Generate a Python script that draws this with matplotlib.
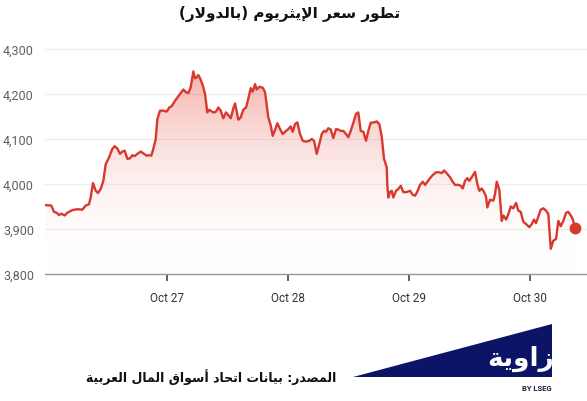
import numpy as np
import matplotlib
matplotlib.use('Agg')
import matplotlib.pyplot as plt
from matplotlib.patches import Polygon

# hours since Oct 26 00:00 and ETH price in USD
hours = [0.0, 1.05, 1.59, 2.12, 2.58, 3.03, 3.71, 4.22, 5.22, 6.21, 7.2, 7.87, 8.53, 8.87,
         9.32, 9.86, 10.31, 10.85, 11.37, 11.84, 12.5, 13.15, 13.63, 14.14, 14.68, 15.13,
         15.61, 16.13, 16.66, 17.12, 17.59, 18.11, 18.78, 19.44, 19.97, 20.43, 20.89, 21.28,
         21.76, 22.08, 22.61, 23.27, 23.94, 24.46, 24.93, 25.59, 26.24, 26.92, 27.23, 27.77,
         28.23, 28.70, 29.22, 29.55, 29.89, 30.21, 30.55, 31.08, 31.54, 31.99, 32.39, 32.87,
         33.32, 33.72, 34.18, 34.65, 35.17, 35.70, 36.16, 36.64, 37.15, 37.49, 37.83, 38.14,
         38.62, 39.13, 39.67, 40.13, 40.60, 41.0, 41.46, 41.79, 42.31, 42.98, 43.44, 44.09,
         44.57, 44.97, 45.42, 45.88, 46.41, 46.95, 47.41, 48.06, 48.54, 48.93, 49.39, 49.85,
         50.38, 50.92, 51.57, 52.23, 52.70, 53.16, 53.69, 54.21, 54.69, 55.14, 55.54, 55.99,
         56.47, 56.98, 57.52, 57.98, 58.45, 58.97, 59.50, 59.96, 60.44, 60.95, 61.49, 61.94,
         62.42, 62.94, 63.47, 63.93, 64.40, 65.06, 65.59, 66.11, 66.59, 67.04, 67.58, 67.70,
         67.90, 68.23, 68.57, 68.89, 69.42, 69.88, 70.36, 70.87, 71.55, 72.20, 72.74, 73.19,
         73.65, 74.18, 74.72, 75.17, 75.63, 76.17, 76.70, 77.36, 78.01, 78.49, 78.94, 79.48,
         80.13, 80.67, 81.12, 81.78, 82.26, 82.65, 83.11, 83.57, 83.96, 84.44, 85.09, 85.55,
         85.95, 86.42, 86.88, 87.27, 87.53, 88.07, 88.72, 89.06, 89.40, 89.91, 90.39, 90.72,
         91.25, 91.70, 92.18, 92.69, 93.23, 93.68, 94.16, 94.67, 95.21, 95.86, 96.34, 96.79,
         97.19, 97.65, 98.12, 98.64, 99.17, 99.63, 100.11, 100.62, 101.16, 101.61, 102.09,
         102.61, 103.14, 103.60, 104.08, 104.47, 104.93]
price = [3953, 3952, 3938, 3936, 3931, 3934, 3930, 3936, 3942, 3944, 3943, 3952, 3955, 3971,
         4002, 3985, 3980, 3989, 4007, 4044, 4059, 4078, 4084, 4079, 4067, 4072,
         4074, 4056, 4057, 4064, 4062, 4067, 4072, 4067, 4063, 4064, 4063, 4078,
         4100, 4144, 4163, 4163, 4161, 4170, 4173, 4185, 4195, 4205, 4210, 4204,
         4202, 4215, 4250, 4235, 4237, 4242, 4235, 4220, 4200, 4159, 4165, 4161,
         4159, 4161, 4170, 4163, 4146, 4159, 4153, 4146, 4168, 4179, 4161, 4143,
         4148, 4165, 4170, 4190, 4213, 4205, 4222, 4210, 4216, 4214, 4204, 4148,
         4130, 4107, 4120, 4135, 4122, 4111, 4116, 4122, 4128, 4116, 4133, 4137,
         4111, 4096, 4094, 4096, 4100, 4096, 4067, 4089, 4111, 4118, 4116, 4124,
         4121, 4102, 4122, 4121, 4118, 4118, 4111, 4104, 4118, 4136, 4156, 4159,
         4118, 4116, 4096, 4118, 4136, 4137, 4139, 4133, 4105, 4056, 4037, 3996,
         3970, 3982, 3985, 3970, 3985, 3989, 3996, 3982, 3982, 3985, 3976, 3974,
         3983, 3998, 4005, 3998, 4005, 4013, 4020, 4026, 4026, 4024, 4030, 4024,
         4015, 4005, 3998, 3998, 3996, 3990, 4007, 4013, 4007, 4015, 4027, 4000,
         3985, 3990, 3982, 3972, 3948, 3965, 3963, 3978, 4005, 3987, 3918, 3930,
         3921, 3933, 3950, 3946, 3958, 3941, 3938, 3916, 3911, 3904, 3911, 3921,
         3913, 3928, 3943, 3946, 3941, 3933, 3856, 3874, 3878, 3918, 3906,
         3918, 3936, 3938, 3930, 3922, 3902]

tick_hours = [24, 48, 72, 96]
tick_labels = ['Oct 27', 'Oct 28', 'Oct 29', 'Oct 30']
y_ticks = [3800, 3900, 4000, 4100, 4200, 4300]

title = 'تطور سعر الإيثريوم (بالدولار)'
source = 'المصدر: بيانات اتحاد أسواق المال العربية'
logo = 'زاوية'

# minimal arabic shaping (matplotlib has no complex text layout)
FORMS = {
    'ا': (0xFE8D, 0xFE8E), 'أ': (0xFE83, 0xFE84), 'إ': (0xFE87, 0xFE88),
    'د': (0xFEA9, 0xFEAA), 'ر': (0xFEAD, 0xFEAE), 'ز': (0xFEAF, 0xFEB0),
    'و': (0xFEED, 0xFEEE), 'ة': (0xFE93, 0xFE94),
    'ب': (0xFE8F, 0xFE90, 0xFE91, 0xFE92), 'ت': (0xFE95, 0xFE96, 0xFE97, 0xFE98),
    'ث': (0xFE99, 0xFE9A, 0xFE9B, 0xFE9C), 'ح': (0xFEA1, 0xFEA2, 0xFEA3, 0xFEA4),
    'س': (0xFEB1, 0xFEB2, 0xFEB3, 0xFEB4), 'ص': (0xFEB9, 0xFEBA, 0xFEBB, 0xFEBC),
    'ط': (0xFEC1, 0xFEC2, 0xFEC3, 0xFEC4), 'ع': (0xFEC9, 0xFECA, 0xFECB, 0xFECC),
    'ق': (0xFED5, 0xFED6, 0xFED7, 0xFED8), 'ل': (0xFEDD, 0xFEDE, 0xFEDF, 0xFEE0),
    'م': (0xFEE1, 0xFEE2, 0xFEE3, 0xFEE4), 'ن': (0xFEE5, 0xFEE6, 0xFEE7, 0xFEE8),
    'ي': (0xFEF1, 0xFEF2, 0xFEF3, 0xFEF4),
}
LAM_ALEF = {'ا': (0xFEFB, 0xFEFC), 'أ': (0xFEF7, 0xFEF8), 'إ': (0xFEF9, 0xFEFA)}


def shape(s):
    def fwd(c):
        return c in FORMS and len(FORMS[c]) == 4
    out = []
    i = 0
    while i < len(s):
        c = s[i]
        if c not in FORMS:
            out.append(c)
            i += 1
            continue
        jp = i > 0 and fwd(s[i - 1])
        if c == 'ل' and i + 1 < len(s) and s[i + 1] in LAM_ALEF:
            f = LAM_ALEF[s[i + 1]]
            out.append(chr(f[1] if jp else f[0]))
            i += 2
            continue
        jn = fwd(c) and i + 1 < len(s) and s[i + 1] in FORMS
        f = FORMS[c]
        if jp and jn:
            g = f[3]
        elif jp:
            g = f[1]
        elif jn:
            g = f[2]
        else:
            g = f[0]
        out.append(chr(g))
        i += 1
    return ''.join(reversed(out)).translate(str.maketrans('()', ')('))


red = '#d8382d'
W, H = 587, 402
fig = plt.figure(figsize=(W / 100, H / 100), dpi=100)
ax = fig.add_axes([45 / W, 1 - 275 / H, 1 - 45 / W, (275 - 41) / H])

ax.set_xlim(-0.2, 107.3)
ax.set_ylim(3800, 4320)

# gradient fill under the line
fill = ax.fill_between(hours, price, 3800, color='none', lw=0)
grad = np.linspace(0, 1, 256).reshape(-1, 1)
cmap = matplotlib.colors.LinearSegmentedColormap.from_list(
    'g', [(1, 1, 1, 0), (0.91, 0.30, 0.25, 0.45)])
im = ax.imshow(grad, cmap=cmap, aspect='auto', origin='lower',
               extent=[-0.2, 107.3, 3800, 4260], zorder=1)
path = fill.get_paths()[0]
im.set_clip_path(path, transform=ax.transData)

ax.plot(hours, price, color=red, lw=1.7, zorder=3)
ax.plot(hours[-1], price[-1], 'o', color=red, ms=7.5, zorder=4)

for s in ['top', 'right', 'left']:
    ax.spines[s].set_visible(False)
ax.spines['bottom'].set_color('#9a9a9a')
ax.spines['bottom'].set_linewidth(1.0)

ax.set_yticks(y_ticks)
ax.set_yticklabels([f'{v:,}' for v in y_ticks])
ax.set_xticks(tick_hours)
ax.set_xticklabels(tick_labels)
ax.tick_params(axis='y', length=0, pad=8, labelsize=9, labelcolor='#5f5f5f')
ax.tick_params(axis='x', length=5, width=1.3, color='#555555', pad=7,
               labelsize=8.5, labelcolor='#333333')
for lab in ax.get_xticklabels() + ax.get_yticklabels():
    lab.set_fontfamily('Roboto')
ax.grid(axis='y', color='#ededed', lw=0.9, zorder=0)
ax.set_axisbelow(True)

fig.text(290 / W, 1 - 14 / H, shape(title), ha='center', va='center',
         fontsize=11, fontweight='bold', family='DejaVu Sans', color='#111111')
fig.text(336 / W, 1 - 377 / H, shape(source), ha='right', va='center',
         fontsize=9, fontweight='bold', family='DejaVu Sans', color='#111111')

# logo
tri = Polygon([(353 / W, 1 - 378 / H), (552 / W, 1 - 325 / H), (552 / W, 1 - 378 / H)],
              closed=True, transform=fig.transFigure, color='#0c1466', lw=0)
fig.patches.append(tri)
fig.text(554 / W, 1 - 359 / H, shape(logo), ha='right', va='center',
         fontsize=19, fontweight='bold', family='DejaVu Sans', color='white')
fig.text(552 / W, 1 - 389 / H, 'BY LSEG', ha='right', va='center',
         fontsize=5.5, fontweight='bold', family='Roboto', color='#1c2040')

fig.savefig('out.png', dpi=100)
